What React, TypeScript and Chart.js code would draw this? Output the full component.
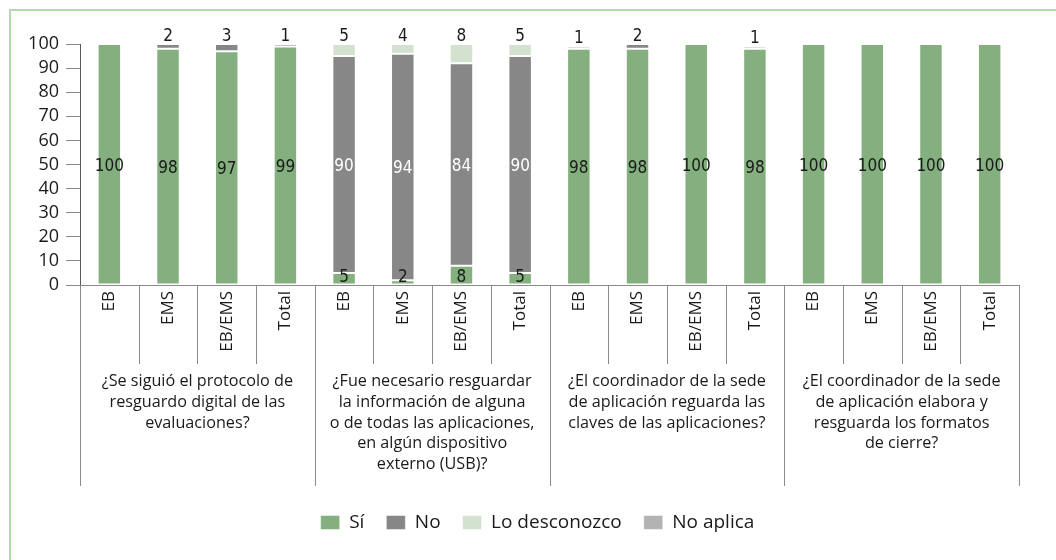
import React, { useEffect, useRef } from "react";
import { Chart, registerables } from "chart.js";

Chart.register(...registerables);

const categories = [
  "EB", "EMS", "EB/EMS", "Total",
  "EB", "EMS", "EB/EMS", "Total",
  "EB", "EMS", "EB/EMS", "Total",
  "EB", "EMS", "EB/EMS", "Total",
];
const siValues = [100, 98, 97, 99, 5, 2, 8, 5, 98, 98, 100, 98, 100, 100, 100, 100];
const noValues = [0, 2, 3, 1, 90, 94, 84, 90, 1, 2, 0, 1, 0, 0, 0, 0];
const loDesconozcoValues = [0, 0, 0, 0, 5, 4, 8, 5, 0, 0, 0, 0, 0, 0, 0, 0];
const noAplicaValues = [0, 0, 0, 0, 0, 0, 0, 0, 0, 0, 0, 0, 0, 0, 0, 0];
const seriesNames = ["Sí", "No", "Lo desconozco", "No aplica"];
const seriesColors = ["#83b07e", "#878787", "#d3e2cf", "#b3b3b3"];
const groupLabels = [
  ["¿Se siguió el protocolo de", "resguardo digital de las", "evaluaciones?"],
  ["¿Fue necesario resguardar", "la información de alguna", "o de todas las aplicaciones,", "en algún dispositivo", "externo (USB)?"],
  ["¿El coordinador de la sede", "de aplicación reguarda las", "claves de las aplicaciones?"],
  ["¿El coordinador de la sede", "de aplicación elabora y", "resguarda los formatos", "de cierre?"],
];
const groupSize = 4;
const yMin = 0;
const yMax = 100;
const yStep = 10;

const TEXT = "#1a1a1a";
const LINE = "#8a8a8a";
const NUM_FONT = "17px 'DejaVu Sans Condensed', 'DejaVu Sans', sans-serif";
const TEXT_FAMILY = "'Open Sans', 'Noto Sans', sans-serif";

const labelPlugin = {
  id: "valueLabels",
  afterDatasetsDraw(chart: any) {
    const ctx = chart.ctx;
    const n = chart.data.labels.length;
    ctx.save();
    ctx.font = NUM_FONT;
    ctx.textAlign = "center";
    for (let j = 0; j < n; j++) {
      let top = -1;
      let bottom = -1;
      chart.data.datasets.forEach((ds: any, i: number) => {
        if (ds.data[j] > 0) {
          if (bottom < 0) bottom = i;
          top = i;
        }
      });
      chart.data.datasets.forEach((ds: any, i: number) => {
        const v = ds.data[j];
        if (!v) return;
        const el = chart.getDatasetMeta(i).data[j];
        const h = Math.abs(el.base - el.y);
        let y: number;
        let color = TEXT;
        if (h < 24 && i === top && top !== bottom) {
          ctx.textBaseline = "alphabetic";
          y = el.y - 3;
        } else if (h < 24 && i === bottom) {
          ctx.textBaseline = "alphabetic";
          y = el.base - 3;
        } else {
          ctx.textBaseline = "middle";
          y = (el.y + el.base) / 2 + 2;
          if (i === 1) color = "#ffffff";
        }
        ctx.fillStyle = color;
        ctx.fillText(String(v), el.x, y);
      });
    }
    ctx.restore();
  },
};

const separatorPlugin = {
  id: "separators",
  afterLayout(chart: any) {
    const lg = chart.legend;
    if (lg) {
      lg.left += 28;
      lg.right += 28;
    }
  },
  afterDraw(chart: any) {
    const ctx = chart.ctx;
    const xs = chart.scales.x;
    const area = chart.chartArea;
    const n = chart.data.labels.length;
    ctx.save();
    ctx.strokeStyle = LINE;
    ctx.lineWidth = 1;
    const bounds: number[] = [];
    for (let i = 0; i <= n; i++) {
      let bx: number;
      if (i === 0) bx = area.left;
      else if (i === n) bx = area.right;
      else bx = (xs.getPixelForValue(i - 1) + xs.getPixelForValue(i)) / 2;
      bounds.push(bx);
      const len = i % groupSize === 0 ? 201 : 79;
      const px = Math.round(bx) + 0.5;
      ctx.beginPath();
      ctx.moveTo(px, area.bottom);
      ctx.lineTo(px, area.bottom + len);
      ctx.stroke();
    }
    ctx.fillStyle = TEXT;
    ctx.font = "16.2px " + TEXT_FAMILY;
    ctx.textAlign = "center";
    ctx.textBaseline = "alphabetic";
    groupLabels.forEach((lines, g) => {
      const cx = (bounds[g * groupSize] + bounds[(g + 1) * groupSize]) / 2;
      lines.forEach((line, k) => {
        ctx.fillText(line, cx, area.bottom + 101 + k * 20.75);
      });
    });
    ctx.restore();
  },
};

export default function App() {
  const ref = useRef<HTMLCanvasElement>(null);
  useEffect(() => {
    if (!ref.current) return;
    const values = [siValues, noValues, loDesconozcoValues, noAplicaValues];
    const chart = new Chart(ref.current, {
      type: "bar",
      data: {
        labels: categories,
        datasets: seriesNames.map((name, i) => ({
          label: name,
          data: values[i],
          backgroundColor: seriesColors[i],
          borderColor: "rgba(255,255,255,0.45)",
          borderWidth: 1,
          borderSkipped: false,
          barPercentage: 0.4,
          categoryPercentage: 1,
        })),
      },
      options: {
        responsive: false,
        animation: false,
        devicePixelRatio: 1,
        layout: { padding: { left: 0, right: 37, top: 44, bottom: 18 } },
        plugins: {
          legend: {
            position: "bottom",
            labels: {
              boxWidth: 19,
              boxHeight: 14,
              padding: 22,
              color: TEXT,
              font: { family: TEXT_FAMILY, size: 19 },
            },
          },
          tooltip: { enabled: false },
        },
        scales: {
          x: {
            stacked: true,
            grid: { display: false, drawTicks: false },
            border: { display: true, color: LINE, width: 1 },
            ticks: {
              autoSkip: false,
              minRotation: 90,
              maxRotation: 90,
              padding: 6,
              color: TEXT,
              font: { family: TEXT_FAMILY, size: 17 },
            },
            afterFit: (s: any) => {
              s.height = 206;
            },
          },
          y: {
            stacked: true,
            min: yMin,
            max: yMax,
            grid: { drawOnChartArea: false, drawTicks: true, tickLength: 14, color: LINE },
            border: { display: true, color: "#595959", width: 1 },
            ticks: {
              stepSize: yStep,
              autoSkip: false,
              padding: 7,
              color: TEXT,
              font: { family: TEXT_FAMILY, size: 18, lineHeight: 1 },
            },
            afterFit: (s: any) => {
              s.width = 80;
            },
          },
        },
      },
      plugins: [labelPlugin, separatorPlugin],
    });
    return () => chart.destroy();
  }, []);

  return (
    <div style={{ position: "absolute", left: 0, top: 0, width: 1056, height: 560, background: "#fff" }}>
      <div
        style={{
          position: "absolute",
          left: 9,
          top: 9,
          right: 0,
          bottom: 0,
          borderTop: "2px solid #b4d8ad",
          borderLeft: "2px solid #b4d8ad",
        }}
      />
      <canvas ref={ref} width={1056} height={560} style={{ position: "absolute", left: 0, top: 0 }} />
    </div>
  );
}
